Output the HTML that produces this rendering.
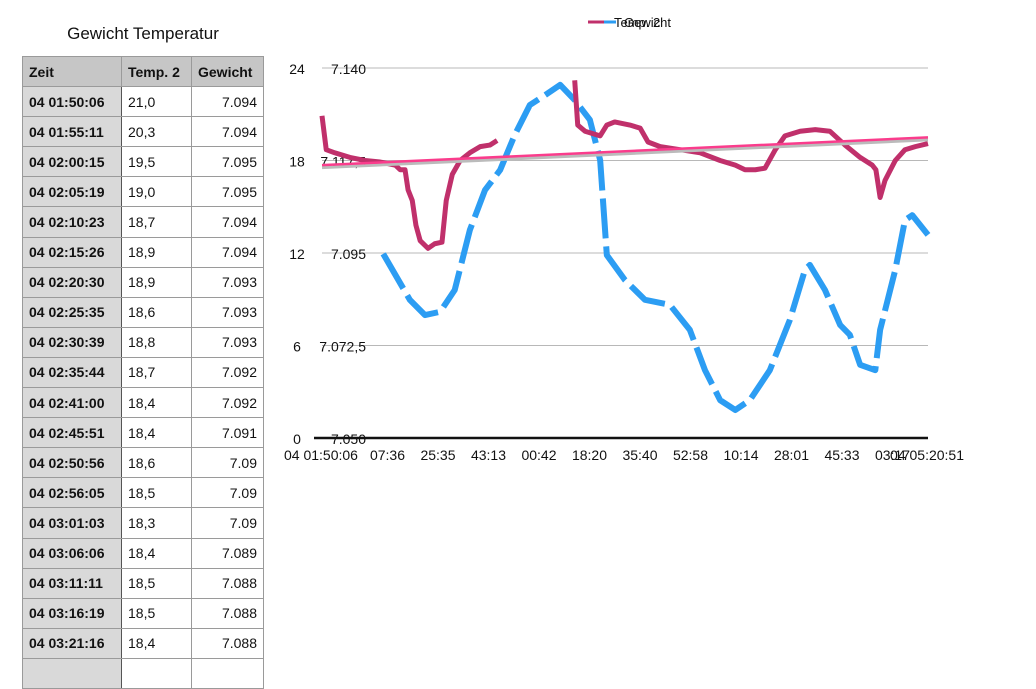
<!DOCTYPE html>
<html><head><meta charset="utf-8"><style>
body{margin:0;width:1036px;height:662px;background:#fff;overflow:hidden;font-family:"Liberation Sans",Arial,sans-serif;position:relative}
#title{position:absolute;left:22px;width:242px;top:24px;text-align:center;font-size:17px;color:#111}
table{position:absolute;left:22px;top:56px;border-collapse:collapse;font-size:14px;color:#111;table-layout:fixed}
td,th{border:1px solid #9a9a9a;height:30.1px;padding:0 6px;box-sizing:border-box}
th{background:#c6c6c6;text-align:left;font-weight:bold}
td.z{background:#d9d9d9;font-weight:bold;border-right:1.5px solid #555}
td.w{text-align:right}
</style></head><body>
<div id="title">Gewicht Temperatur</div>
<table>
<colgroup><col style="width:99px"><col style="width:70px"><col style="width:72px"></colgroup>
<tr><th>Zeit</th><th>Temp. 2</th><th>Gewicht</th></tr>
<tbody id="tb"></tbody>
</table>
<svg id="chart" width="1036" height="662" style="position:absolute;left:0;top:0" font-family="Liberation Sans, Arial, sans-serif"></svg>
<script>
const rows=[["04 01:50:06","21,0","7.094"],["04 01:55:11","20,3","7.094"],["04 02:00:15","19,5","7.095"],["04 02:05:19","19,0","7.095"],["04 02:10:23","18,7","7.094"],["04 02:15:26","18,9","7.094"],["04 02:20:30","18,9","7.093"],["04 02:25:35","18,6","7.093"],["04 02:30:39","18,8","7.093"],["04 02:35:44","18,7","7.092"],["04 02:41:00","18,4","7.092"],["04 02:45:51","18,4","7.091"],["04 02:50:56","18,6","7.09"],["04 02:56:05","18,5","7.09"],["04 03:01:03","18,3","7.09"],["04 03:06:06","18,4","7.089"],["04 03:11:11","18,5","7.088"],["04 03:16:19","18,5","7.088"],["04 03:21:16","18,4","7.088"],["","",""]];
const tb=document.getElementById('tb');
rows.forEach(r=>{const tr=document.createElement('tr');


tr.innerHTML='<td class="z">'+r[0]+'</td><td>'+r[1]+'</td><td class="w">'+r[2]+'</td>';tb.appendChild(tr);});

// chart data (time as percentage of range 0..100)
const tempT=[0,0.7,2.1,4.6,7.1,9.6,12.1,12.9,13.7,14.2,14.9,15.5,16.2,17.5,18.6,19.8,20.5,21.5,22.8,24.4,26.1,27.7,28.9];
const tempV=[20.9,18.7,18.5,18.2,18.0,17.9,17.7,17.4,17.4,16.1,15.4,13.8,12.8,12.3,12.6,12.7,15.4,17.1,18.0,18.5,18.9,19.0,19.3];
const tempT3=[41.7,42.2,43.4,45.9,47.0,48.3,50.8,52.5,53.8,55.8,59.1,62.4,65.7,68.2,69.8,71.5,73.1,74.8,76.4,78.9,81.4,83.8,86.3,88.8,90.8,91.4,92.1,92.9,94.6,96.2,97.9,100];
const tempV3=[23.2,20.3,19.9,19.6,20.3,20.5,20.3,20.1,19.2,18.9,18.7,18.5,18.0,17.7,17.4,17.4,17.5,18.7,19.6,19.9,20.0,19.9,19.0,18.2,17.7,17.4,15.6,16.7,18.0,18.7,18.9,19.1];
const trendV=[17.7,19.5];
const wT=[10.1,14.5,17.0,19.5,21.9,24.4,26.9,29.4,31.8,34.3,36.8,39.3,41.7,44.2,45.9,47.0,50.0,53.3,57.4,60.7,63.2,65.7,68.2,70.6,73.9,77.2,79.7,80.5,83.0,85.5,87.1,88.8,91.3,92.1,94.6,96.2,97.4,100];
const wV=[7.0948,7.0836,7.0799,7.0807,7.0860,7.1006,7.1103,7.1152,7.1237,7.1310,7.1334,7.1359,7.1322,7.1274,7.1176,7.0945,7.0884,7.0836,7.0824,7.0763,7.0665,7.0592,7.0568,7.0592,7.0665,7.0787,7.0909,7.0921,7.0860,7.0775,7.0751,7.0678,7.0665,7.0763,7.0909,7.1030,7.1042,7.0994];
const yTempTicks=[0,6,12,18,24];
const yWTicks=["7.050","7.072,5","7.095","7.117,5","7.140"];
const xTickLabels=["04 01:50:06","04 02:07:36","04 02:25:35","04 02:43:13","04 03:00:42","04 03:18:20","04 03:35:40","04 03:52:58","04 04:10:14","04 04:28:01","04 04:45:33","04 05:03:17","04 05:20:51"];

const svg=document.getElementById('chart');const NS='http://www.w3.org/2000/svg';
const X0=322,X1=928,Y0=438,Y1=68;
const xs=t=>X0+(X1-X0)*t/100;
const yT=v=>Y0-(Y0-Y1)*v/24;
const yW=v=>Y0-(Y0-Y1)*(v-7.05)/0.09;
function el(tag,attrs,txt){const e=document.createElementNS(NS,tag);for(const k in attrs)e.setAttribute(k,attrs[k]);if(txt!==undefined)e.textContent=txt;svg.appendChild(e);return e;}
yTempTicks.forEach((v,i)=>{
 if(v>0){const g=el('line',{x1:X0,x2:X1,y1:yT(v),y2:yT(v),stroke:'#b8b8b8','stroke-width':1});
 
 }
 const a=el('text',{x:297,y:yT(v)+6,'font-size':14,'text-anchor':'middle',fill:'#111'},String(v));
 
 
 const b=el('text',{x:366,y:yT(v)+6,'font-size':14,'text-anchor':'end',fill:'#111'},yWTicks[i]);
 
 
});
function poly(T,V,fy,stroke,w,dash,name){const p=el('polyline',{points:T.map((t,i)=>xs(t)+','+fy(V[i])).join(' '),fill:'none',stroke:stroke,'stroke-width':w,'stroke-linejoin':'round','stroke-dasharray':dash||'none'});
 
 return p;}
poly(wT,wV,yW,'#2c9df3',6,'40 8','series-gewicht');
poly(tempT,tempV,yT,'#c0306b',5,null,'series-temp-2');
poly(tempT3,tempV3,yT,'#c0306b',5,null,'series-temp-2-part2');
const ts=el('line',{x1:X0,y1:yT(trendV[0])+2.5,x2:X1,y2:yT(trendV[1])+2.5,stroke:'#bbb','stroke-width':3});


const tl=el('line',{x1:X0,y1:yT(trendV[0]),x2:X1,y2:yT(trendV[1]),stroke:'#fa3c8c','stroke-width':2.5});


const ax=el('line',{x1:X0-8,x2:X1,y1:Y0,y2:Y0,stroke:'#111','stroke-width':2.5});


xTickLabels.forEach((s,i)=>{const x=i===0?284:(i===xTickLabels.length-1?964:xs(i*100/(xTickLabels.length-1))+15);
 const t=el('text',{x:x,y:460,'font-size':14,'text-anchor':i===0?'start':(i===xTickLabels.length-1?'end':'middle'),fill:'#111'},i===0||i===xTickLabels.length-1?s:s.slice(6));
 
 });
const l1=el('line',{x1:588,x2:604,y1:22,y2:22,stroke:'#c0306b','stroke-width':3});


const l2=el('line',{x1:604,x2:616,y1:22,y2:22,stroke:'#2c9df3','stroke-width':3});


const lt1=el('text',{x:614,y:27,'font-size':13,fill:'#111'},'Temp. 2');


const lt2=el('text',{x:624,y:27,'font-size':13,fill:'#111'},'Gewicht');


</script>
</body></html>
